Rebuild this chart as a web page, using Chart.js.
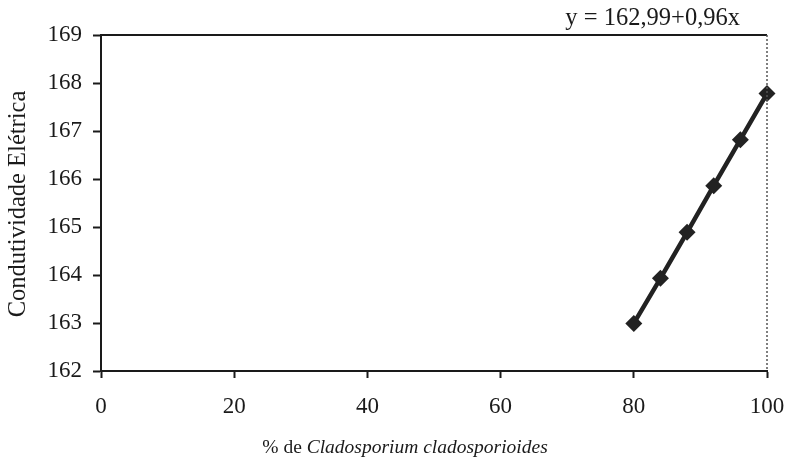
<!DOCTYPE html>
<html>
<head>
<meta charset="utf-8">
<script src="https://cdn.jsdelivr.net/npm/chart.js@4/dist/chart.umd.min.js"></script>
<style>
  html, body { margin: 0; padding: 0; background: #fff; }
  #wrap { width: 787px; height: 462px; position: relative; }
</style>
</head>
<body>
<div id="wrap"><canvas id="c" width="787" height="462"></canvas></div>
<script>
const xValues = [80, 84, 88, 92, 96, 100];
const yValues = [162.99, 163.93, 164.89, 165.86, 166.82, 167.78];
const xTicks = [0, 20, 40, 60, 80, 100];
const yTicks = [162, 163, 164, 165, 166, 167, 168, 169];
const equationText = 'y = 162,99+0,96x';
const yTitleText = 'Condutividade Elétrica';
const xTitlePlain = '% de ';
const xTitleItalic = 'Cladosporium cladosporioides';

const INK = '#1a1a1a';
const SERIF = '"Liberation Serif", "Times New Roman", serif';

const decor = {
  id: 'decor',
  afterDraw(chart) {
    const ctx = chart.ctx;
    const a = chart.chartArea;
    ctx.save();
    // top border
    ctx.strokeStyle = INK;
    ctx.lineWidth = 2;
    ctx.beginPath();
    ctx.moveTo(a.left - 1, a.top);
    ctx.lineTo(a.right, a.top);
    ctx.stroke();
    // right dotted border
    ctx.strokeStyle = '#555';
    ctx.lineWidth = 1.5;
    ctx.setLineDash([2, 2]);
    ctx.beginPath();
    ctx.moveTo(a.right, a.top);
    ctx.lineTo(a.right, a.bottom);
    ctx.stroke();
    ctx.setLineDash([]);

    ctx.fillStyle = INK;
    // equation
    ctx.font = '24.5px ' + SERIF;
    ctx.textAlign = 'right';
    ctx.textBaseline = 'alphabetic';
    ctx.fillText(equationText, 740, 25);

    // y title
    ctx.save();
    ctx.translate(25, 204);
    ctx.rotate(-Math.PI / 2);
    ctx.font = '24.5px ' + SERIF;
    ctx.textAlign = 'center';
    ctx.textBaseline = 'alphabetic';
    ctx.fillText(yTitleText, 0, 0);
    ctx.restore();

    // x title (mixed roman + italic)
    const fPlain = '19.5px ' + SERIF;
    const fItal = 'italic 19.5px ' + SERIF;
    ctx.font = fPlain;
    const w1 = ctx.measureText(xTitlePlain).width;
    ctx.font = fItal;
    const w2 = ctx.measureText(xTitleItalic).width;
    const cx = 405;
    let x0 = cx - (w1 + w2) / 2;
    ctx.textAlign = 'left';
    ctx.font = fPlain;
    ctx.fillText(xTitlePlain, x0, 453);
    ctx.font = fItal;
    ctx.fillText(xTitleItalic, x0 + w1, 453);
    ctx.restore();
  }
};

new Chart(document.getElementById('c'), {
  type: 'line',
  data: {
    datasets: [{
      data: xValues.map((x, i) => ({ x: x, y: yValues[i] })),
      borderColor: '#222',
      backgroundColor: '#222',
      borderWidth: 4.5,
      pointStyle: 'rectRot',
      pointRadius: 8.5,
      pointBorderWidth: 0,
      tension: 0,
      fill: false,
      clip: false
    }]
  },
  options: {
    responsive: false,
    animation: false,
    events: [],
    layout: { padding: { top: 35, right: 20, left: 0, bottom: 0 } },
    plugins: { legend: { display: false }, tooltip: { enabled: false }, title: { display: false } },
    scales: {
      x: {
        type: 'linear',
        min: xTicks[0],
        max: xTicks[xTicks.length - 1],
        afterFit(s) { s.height = 91; s.paddingRight = 0; s.paddingLeft = 0; },
        afterBuildTicks(s) { s.ticks = xTicks.map(v => ({ value: v })); },
        ticks: {
          font: { family: SERIF, size: 23 },
          color: INK,
          padding: 15,
          maxRotation: 0,
          autoSkip: false
        },
        grid: { drawOnChartArea: false, drawTicks: true, tickLength: 7, tickColor: INK, tickWidth: 2 },
        border: { color: INK, width: 2 }
      },
      y: {
        type: 'linear',
        min: yTicks[0],
        max: yTicks[yTicks.length - 1],
        afterFit(s) { s.width = 101; },
        afterBuildTicks(s) { s.ticks = yTicks.map(v => ({ value: v })); },
        ticks: {
          font: { family: SERIF, size: 23 },
          color: INK,
          padding: 11,
          autoSkip: false
        },
        grid: { drawOnChartArea: false, drawTicks: true, tickLength: 8, tickColor: INK, tickWidth: 2 },
        border: { color: INK, width: 2 }
      }
    }
  },
  plugins: [decor]
});
</script>
</body>
</html>
